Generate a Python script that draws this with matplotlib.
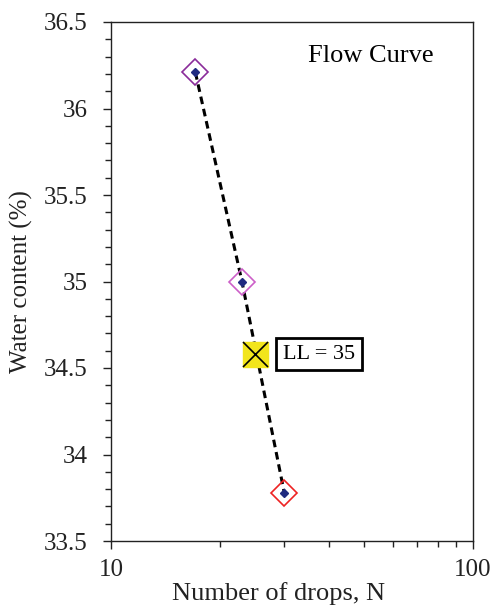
import numpy as np
import matplotlib.pyplot as plt
from matplotlib.ticker import MultipleLocator, FixedLocator, NullFormatter

plt.rcParams['font.family'] = ['Liberation Serif', 'DejaVu Serif']

# flow test data
drops = [17.1, 23.0, 30.1]
water = [36.21, 35.0, 33.78]
edge_cols = ['#8a2b9a', '#cc5fc8', '#ee2222']

ll_drops = 25
ll_water = 34.58
ll_text = 'LL = 35'

yticks = [33.5, 34, 34.5, 35, 35.5, 36, 36.5]
ytick_labels = ['33.5', '34', '34.5', '35', '35.5', '36', '36.5']

fig = plt.figure(figsize=(4.95, 6.07), dpi=100)
ax = fig.add_axes([111/495, 66/607, 362/495, 519/607])

ax.plot(drops, water, ls=(0, (2.5, 1.6)), color='black', lw=2.2, zorder=2)
for x, y, c in zip(drops, water, edge_cols):
    ax.plot(x, y, marker='D', ms=13.5, mfc='none', mec=c, mew=1.2, zorder=3)
    ax.plot(x, y, marker='D', ms=4, color='#1f2a80', zorder=4)

ax.plot(ll_drops, ll_water, marker='s', ms=18, mfc='#f2e51c', mec='#f2e51c', zorder=3)
ax.plot(ll_drops, ll_water, marker='x', ms=18, mew=1.2, color='black', zorder=4)

ax.annotate(ll_text, xy=(ll_drops, ll_water), xytext=(20, 0), textcoords='offset points',
            va='center', ha='left', fontsize=16,
            bbox=dict(boxstyle='square,pad=0.3', fc='white', ec='black', lw=2))

ax.text(0.718, 0.934, 'Flow Curve', transform=ax.transAxes, ha='center', va='center', fontsize=19)

ax.set_xscale('log')
ax.set_xlim(10, 100)
ax.set_ylim(33.5, 36.5)
ax.xaxis.set_major_locator(FixedLocator([10, 100]))
ax.xaxis.set_minor_locator(FixedLocator(np.arange(20, 100, 10)))
ax.xaxis.set_minor_formatter(NullFormatter())
ax.set_xticklabels(['10', '100'])
ax.set_yticks(yticks)
ax.set_yticklabels(ytick_labels)
ax.yaxis.set_minor_locator(MultipleLocator(0.1))

for s in ax.spines.values():
    s.set_linewidth(1.0)
    s.set_color('#222222')

ax.tick_params(which='both', direction='out', labelsize=18, colors='#222222', labelcolor='#222222')
ax.tick_params(axis='y', which='both', pad=11)
ax.tick_params(axis='x', which='both', pad=7)
ax.tick_params(which='major', length=6, width=1)
ax.tick_params(which='minor', length=4.5, width=1)

ax.set_xlabel('Number of drops, N', fontsize=19, color='#222222')
ax.set_ylabel('Water content (%)', fontsize=18, color='#222222')
ax.xaxis.set_label_coords(0.463, -0.079)
ax.yaxis.set_label_coords(-0.215, 0.5)

fig.savefig('out.png', dpi=100)
